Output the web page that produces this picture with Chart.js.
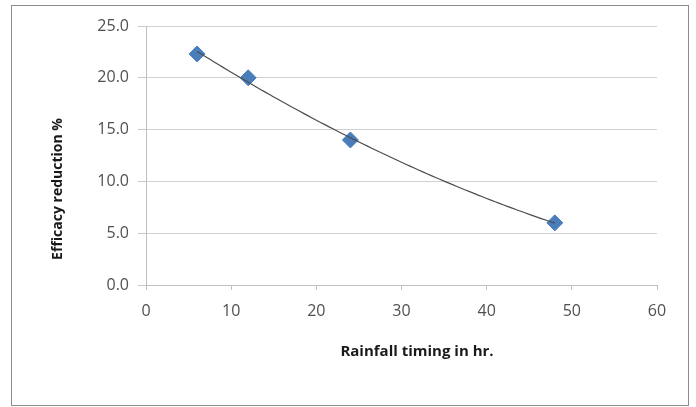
<!DOCTYPE html>
<html>
<head>
<meta charset="utf-8">
<script src="https://cdn.jsdelivr.net/npm/chart.js@4.4.1/dist/chart.umd.min.js"></script>
<style>
  html, body { margin: 0; padding: 0; background: #ffffff; }
  #wrap { width: 696px; height: 407px; }
</style>
</head>
<body>
<div id="wrap"><canvas id="c" width="696" height="407"></canvas></div>
<script>
// Rainfall timing (hours after application) and the resulting efficacy reduction (%)
const rainfallHours = [6, 12, 24, 48];
const efficacyReduction = [22.3, 20.0, 14.0, 6.0];
const xTicks = [0, 10, 20, 30, 40, 50, 60];
const yTicks = [0, 5, 10, 15, 20, 25];
const xTitle = 'Rainfall timing in hr.';
const yTitle = 'Efficacy reduction %';

// Second-order polynomial trendline (least squares) through the measured points
function quadFit(xs, ys) {
  let s = [0, 0, 0, 0, 0], t = [0, 0, 0];
  for (let i = 0; i < xs.length; i++) {
    let p = 1;
    for (let k = 0; k <= 4; k++) { s[k] += p; if (k <= 2) t[k] += p * ys[i]; p *= xs[i]; }
  }
  const M = [[s[0], s[1], s[2], t[0]], [s[1], s[2], s[3], t[1]], [s[2], s[3], s[4], t[2]]];
  for (let i = 0; i < 3; i++) {
    for (let j = i + 1; j < 3; j++) {
      const f = M[j][i] / M[i][i];
      for (let k = i; k < 4; k++) M[j][k] -= f * M[i][k];
    }
  }
  const c = [0, 0, 0];
  for (let i = 2; i >= 0; i--) {
    let v = M[i][3];
    for (let k = i + 1; k < 3; k++) v -= M[i][k] * c[k];
    c[i] = v / M[i][i];
  }
  return x => c[0] + c[1] * x + c[2] * x * x;
}
const trend = quadFit(rainfallHours, efficacyReduction);
const x0 = Math.min(...rainfallHours), x1 = Math.max(...rainfallHours);
const trendPoints = [];
for (let i = 0; i <= 84; i++) {
  const x = x0 + (x1 - x0) * i / 84;
  trendPoints.push({ x: x, y: trend(x) });
}

const frameAndTitles = {
  id: 'frameAndTitles',
  beforeDraw(chart) {
    const ctx = chart.ctx;
    ctx.save();
    ctx.fillStyle = '#ffffff';
    ctx.fillRect(0, 0, chart.width, chart.height);
    ctx.strokeStyle = '#8c8c8c';
    ctx.lineWidth = 1;
    ctx.strokeRect(11.5, 5.5, 677, 400);
    ctx.restore();
  },
  afterDraw(chart) {
    const ctx = chart.ctx;
    ctx.save();
    ctx.fillStyle = '#1a1a1a';
    ctx.textAlign = 'center';
    ctx.textBaseline = 'middle';
    ctx.font = 'bold 15px "Open Sans", sans-serif';
    ctx.fillText(xTitle, 417, 352);
    ctx.font = 'bold 14px "Open Sans", sans-serif';
    ctx.translate(58, 189);
    ctx.rotate(-Math.PI / 2);
    ctx.fillText(yTitle, 0, 0);
    ctx.restore();
  }
};

new Chart(document.getElementById('c'), {
  type: 'scatter',
  data: {
    datasets: [
      {
        type: 'line',
        data: trendPoints,
        borderColor: '#4d4d4d',
        borderWidth: 1.2,
        pointRadius: 0,
        fill: false,
        tension: 0,
        order: 0
      },
      {
        data: rainfallHours.map((x, i) => ({ x: x, y: efficacyReduction[i] })),
        pointStyle: 'rectRot',
        pointRadius: 8,
        backgroundColor: '#4a7ebb',
        borderColor: '#4a7ebb',
        borderWidth: 1,
        order: 1
      }
    ]
  },
  options: {
    responsive: false,
    animation: false,
    layout: { padding: { left: 0, right: 39, top: 26, bottom: 0 } },
    plugins: { legend: { display: false }, tooltip: { enabled: false } },
    scales: {
      x: {
        type: 'linear',
        min: 0, max: 60,
        afterBuildTicks(scale) { scale.ticks = xTicks.map(v => ({ value: v })); },
        afterFit(scale) { scale.height = 122; },
        grid: { drawOnChartArea: false, drawTicks: true, tickLength: 5, tickColor: '#bfbfbf' },
        border: { display: true, color: '#bfbfbf', width: 1 },
        ticks: { color: '#505050', font: { family: '"Open Sans", sans-serif', size: 16 }, padding: 12, maxRotation: 0 }
      },
      y: {
        type: 'linear',
        min: 0, max: 25,
        afterBuildTicks(scale) { scale.ticks = yTicks.map(v => ({ value: v })); },
        afterFit(scale) { scale.width = 146; },
        grid: { color: '#d0d0d0', drawTicks: true, tickLength: 8, tickColor: '#c8c8c8' },
        border: { display: true, color: '#bfbfbf', width: 1 },
        ticks: { color: '#505050', font: { family: '"Open Sans", sans-serif', size: 16 }, padding: 9,
                 callback: v => Number(v).toFixed(1) }
      }
    }
  },
  plugins: [frameAndTitles]
});
</script>
</body>
</html>
